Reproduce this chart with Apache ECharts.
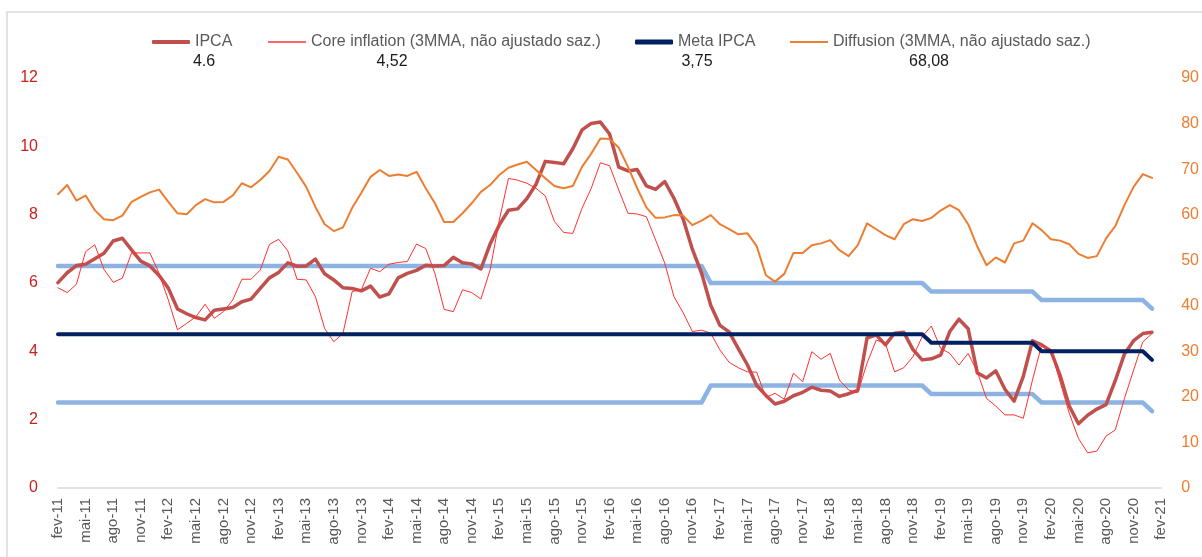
<!DOCTYPE html>
<html>
<head>
<meta charset="utf-8">
<title>IPCA x núcleos x difusão</title>
<script src="https://cdn.jsdelivr.net/npm/echarts@6/dist/echarts.min.js"></script>
<style>
  html, body { margin: 0; padding: 0; background: #fff; }
  #chart { width: 1202px; height: 557px; }
</style>
</head>
<body>
<div id="chart"></div>
<script>
// eixo x: fev-11 ... fev-21 (mensal)
const monthNames = ['jan', 'fev', 'mar', 'abr', 'mai', 'jun', 'jul', 'ago', 'set', 'out', 'nov', 'dez']
const categories = []
for (let y = 2011; y <= 2021; y++) {
    for (let m = 0; m < 12; m++) {
        if (y === 2011 && m < 1) continue
        if (y === 2021 && m > 1) break
        categories.push(monthNames[m] + '-' + String(y).slice(2))
    }
}

// IPCA 12m (fev-11 .. jan-21)
const ipca = [
    6.01, 6.30, 6.51, 6.55, 6.71, 6.87, 7.23, 7.31, 6.97, 6.64, 6.50,
    6.22, 5.85, 5.24, 5.10, 4.99, 4.92, 5.20, 5.24, 5.28, 5.45, 5.53, 5.84,
    6.15, 6.31, 6.59, 6.49, 6.50, 6.70, 6.27, 6.09, 5.86, 5.84, 5.77, 5.91,
    5.59, 5.68, 6.15, 6.28, 6.37, 6.52, 6.50, 6.51, 6.75, 6.59, 6.56, 6.41,
    7.14, 7.70, 8.13, 8.17, 8.47, 8.89, 9.56, 9.53, 9.49, 9.93, 10.48, 10.67,
    10.71, 10.36, 9.39, 9.28, 9.32, 8.84, 8.74, 8.97, 8.48, 7.87, 6.99, 6.29,
    5.35, 4.76, 4.57, 4.08, 3.60, 3.00, 2.71, 2.46, 2.54, 2.70, 2.80, 2.95,
    2.86, 2.84, 2.68, 2.76, 2.86, 4.39, 4.48, 4.19, 4.53, 4.56, 4.05, 3.75,
    3.78, 3.89, 4.58, 4.94, 4.66, 3.37, 3.22, 3.43, 2.89, 2.54, 3.27, 4.31,
    4.19, 4.01, 3.30, 2.40, 1.88, 2.13, 2.31, 2.44, 3.14, 3.92, 4.31, 4.52,
    4.56
]

// núcleos, média móvel 3m
const coreInflation = [
    5.86, 5.72, 5.96, 6.92, 7.12, 6.40, 6.02, 6.14, 6.88, 6.88, 6.88,
    6.28, 5.50, 4.63, 4.82, 5.01, 5.38, 4.97, 5.16, 5.50, 6.11, 6.11, 6.38,
    7.13, 7.28, 6.94, 6.11, 6.09, 5.60, 4.67, 4.28, 4.53, 5.75, 5.81, 6.43,
    6.33, 6.55, 6.60, 6.63, 7.14, 7.01, 6.28, 5.23, 5.16, 5.80, 5.72, 5.53,
    6.38, 7.84, 9.06, 9.01, 8.92, 8.77, 8.55, 7.80, 7.48, 7.45, 8.19, 8.77,
    9.52, 9.43, 8.72, 8.04, 8.02, 7.94, 7.26, 6.58, 5.60, 5.13, 4.58, 4.62,
    4.53, 4.04, 3.68, 3.52, 3.40, 3.39, 2.65, 2.77, 2.60, 3.36, 3.11, 3.99,
    3.77, 3.94, 3.16, 2.87, 2.79, 3.65, 4.33, 4.23, 3.40, 3.52, 3.84, 4.43,
    4.74, 4.09, 3.94, 3.60, 3.94, 3.40, 2.62, 2.40, 2.14, 2.14, 2.04, 3.16,
    4.19, 4.04, 3.11, 2.19, 1.45, 1.03, 1.08, 1.52, 1.70, 2.62, 3.45, 4.28,
    4.52
]

// meta de inflação e bandas
const metaIpca = [
    4.5, 4.5, 4.5, 4.5, 4.5, 4.5, 4.5, 4.5, 4.5, 4.5, 4.5,
    4.5, 4.5, 4.5, 4.5, 4.5, 4.5, 4.5, 4.5, 4.5, 4.5, 4.5, 4.5,
    4.5, 4.5, 4.5, 4.5, 4.5, 4.5, 4.5, 4.5, 4.5, 4.5, 4.5, 4.5,
    4.5, 4.5, 4.5, 4.5, 4.5, 4.5, 4.5, 4.5, 4.5, 4.5, 4.5, 4.5,
    4.5, 4.5, 4.5, 4.5, 4.5, 4.5, 4.5, 4.5, 4.5, 4.5, 4.5, 4.5,
    4.5, 4.5, 4.5, 4.5, 4.5, 4.5, 4.5, 4.5, 4.5, 4.5, 4.5, 4.5,
    4.5, 4.5, 4.5, 4.5, 4.5, 4.5, 4.5, 4.5, 4.5, 4.5, 4.5, 4.5,
    4.5, 4.5, 4.5, 4.5, 4.5, 4.5, 4.5, 4.5, 4.5, 4.5, 4.5, 4.5,
    4.25, 4.25, 4.25, 4.25, 4.25, 4.25, 4.25, 4.25, 4.25, 4.25, 4.25, 4.25,
    4.0, 4.0, 4.0, 4.0, 4.0, 4.0, 4.0, 4.0, 4.0, 4.0, 4.0, 4.0,
    3.75
]
const upperBand = [
    6.5, 6.5, 6.5, 6.5, 6.5, 6.5, 6.5, 6.5, 6.5, 6.5, 6.5,
    6.5, 6.5, 6.5, 6.5, 6.5, 6.5, 6.5, 6.5, 6.5, 6.5, 6.5, 6.5,
    6.5, 6.5, 6.5, 6.5, 6.5, 6.5, 6.5, 6.5, 6.5, 6.5, 6.5, 6.5,
    6.5, 6.5, 6.5, 6.5, 6.5, 6.5, 6.5, 6.5, 6.5, 6.5, 6.5, 6.5,
    6.5, 6.5, 6.5, 6.5, 6.5, 6.5, 6.5, 6.5, 6.5, 6.5, 6.5, 6.5,
    6.5, 6.5, 6.5, 6.5, 6.5, 6.5, 6.5, 6.5, 6.5, 6.5, 6.5, 6.5,
    6.0, 6.0, 6.0, 6.0, 6.0, 6.0, 6.0, 6.0, 6.0, 6.0, 6.0, 6.0,
    6.0, 6.0, 6.0, 6.0, 6.0, 6.0, 6.0, 6.0, 6.0, 6.0, 6.0, 6.0,
    5.75, 5.75, 5.75, 5.75, 5.75, 5.75, 5.75, 5.75, 5.75, 5.75, 5.75, 5.75,
    5.5, 5.5, 5.5, 5.5, 5.5, 5.5, 5.5, 5.5, 5.5, 5.5, 5.5, 5.5,
    5.25
]
const lowerBand = [
    2.5, 2.5, 2.5, 2.5, 2.5, 2.5, 2.5, 2.5, 2.5, 2.5, 2.5,
    2.5, 2.5, 2.5, 2.5, 2.5, 2.5, 2.5, 2.5, 2.5, 2.5, 2.5, 2.5,
    2.5, 2.5, 2.5, 2.5, 2.5, 2.5, 2.5, 2.5, 2.5, 2.5, 2.5, 2.5,
    2.5, 2.5, 2.5, 2.5, 2.5, 2.5, 2.5, 2.5, 2.5, 2.5, 2.5, 2.5,
    2.5, 2.5, 2.5, 2.5, 2.5, 2.5, 2.5, 2.5, 2.5, 2.5, 2.5, 2.5,
    2.5, 2.5, 2.5, 2.5, 2.5, 2.5, 2.5, 2.5, 2.5, 2.5, 2.5, 2.5,
    3.0, 3.0, 3.0, 3.0, 3.0, 3.0, 3.0, 3.0, 3.0, 3.0, 3.0, 3.0,
    3.0, 3.0, 3.0, 3.0, 3.0, 3.0, 3.0, 3.0, 3.0, 3.0, 3.0, 3.0,
    2.75, 2.75, 2.75, 2.75, 2.75, 2.75, 2.75, 2.75, 2.75, 2.75, 2.75, 2.75,
    2.5, 2.5, 2.5, 2.5, 2.5, 2.5, 2.5, 2.5, 2.5, 2.5, 2.5, 2.5,
    2.25
]

// difusão (eixo da direita)
const diffusion = [
    64.5, 66.5, 63.1, 64.2, 61.0, 59.0, 58.8, 59.8, 62.8, 63.9, 64.9,
    65.5, 62.8, 60.3, 60.1, 62.1, 63.4, 62.7, 62.8, 64.2, 66.9, 66.0, 67.6,
    69.6, 72.7, 72.1, 69.2, 66.1, 61.7, 57.9, 56.4, 57.2, 61.5, 64.8, 68.3,
    69.8, 68.5, 68.8, 68.5, 69.4, 65.8, 62.5, 58.4, 58.4, 60.3, 62.5, 65.0,
    66.5, 68.7, 70.3, 71.0, 71.6, 69.8, 68.0, 66.3, 65.8, 66.3, 70.5, 73.4,
    76.7, 76.6, 74.7, 70.5, 65.8, 61.6, 59.3, 59.4, 59.9, 59.8, 57.7, 58.7,
    59.9, 57.9, 56.8, 55.7, 55.9, 53.1, 46.7, 45.3, 47.0, 51.6, 51.6, 53.3,
    53.7, 54.4, 52.2, 50.9, 53.3, 58.1, 56.8, 55.5, 54.6, 57.9, 59.0, 58.6,
    59.3, 60.9, 62.1, 61.0, 57.9, 53.0, 48.9, 50.6, 49.5, 53.7, 54.3, 58.1,
    56.6, 54.6, 54.3, 53.5, 51.4, 50.5, 50.9, 54.8, 57.5, 62.1, 66.1, 68.9,
    68.08
]

// último valor de cada série, mostrado embaixo da legenda
const lastValues = ['4.6', '4,52', '3,75', '68,08']

const FONT = 'Liberation Sans'

let chart = echarts.getInstanceByDom(document.getElementById('chart'))
if (!chart) chart = echarts.init(document.getElementById('chart'))

// uma legenda por série, pra posicionar igual ao excel
// (icone = traço com a espessura da linha)
function legendItem(name, left, thick) {
    return {
        data: [name],
        left: left,
        top: 29,
        icon: 'roundRect',
        itemWidth: 38,
        itemHeight: thick,
        itemGap: 4,
        textStyle: { color: '#595959', fontSize: 16, fontFamily: FONT }
    }
}

function valueText(txt, x) {
    return {
        type: 'text',
        x: x,
        y: 62,
        style: {
            text: txt,
            fill: '#1a1a1a',
            fontSize: 16,
            fontFamily: FONT,
            align: 'center',
            verticalAlign: 'middle'
        }
    }
}

function lineSeries(name, data, color, width, yAxisIndex, z) {
    return {
        name: name,
        type: 'line',
        yAxisIndex: yAxisIndex,
        data: data,
        symbol: 'none',
        z: z,
        lineStyle: { color: color, width: width, cap: 'round', join: 'round' },
        itemStyle: { color: color }
    }
}

const option = {
    animation: false,
    backgroundColor: '#fff',
    tooltip: { trigger: 'axis' },
    legend: [
        legendItem('IPCA', 147, 4),
        legendItem('Core inflation (3MMA, não ajustado saz.)', 263, 1.5),
        legendItem('Meta IPCA', 630, 5),
        legendItem('Diffusion (3MMA, não ajustado saz.)', 785, 2)
    ],
    grid: {
        left: 58,
        right: 35,
        top: 78,
        bottom: 69
    },
    xAxis: {
        type: 'category',
        boundaryGap: false,
        data: categories,
        axisLine: { lineStyle: { color: '#d9d9d9', width: 1.5 } },
        axisTick: { show: false },
        axisLabel: {
            interval: 2,
            rotate: 90,
            margin: 10,
            color: '#595959',
            fontSize: 15,
            fontFamily: FONT
        },
        splitLine: { show: false }
    },
    yAxis: [
        {
            type: 'value',
            min: 0,
            max: 12,
            interval: 2,
            axisLine: { show: false },
            axisTick: { show: false },
            splitLine: { show: false },
            axisLabel: { color: '#c9211e', fontSize: 16, fontFamily: FONT, margin: 20 }
        },
        {
            type: 'value',
            min: 0,
            max: 90,
            interval: 10,
            axisLine: { show: false },
            axisTick: { show: false },
            splitLine: { show: false },
            axisLabel: { color: '#ed7d31', fontSize: 16, fontFamily: FONT, margin: 20 }
        }
    ],
    series: [
        lineSeries('Banda superior', upperBand, '#8db3e2', 4.5, 0, 1),
        lineSeries('Banda inferior', lowerBand, '#8db3e2', 4.5, 0, 1),
        lineSeries('IPCA', ipca, '#c0504d', 3.5, 0, 3),
        lineSeries('Core inflation (3MMA, não ajustado saz.)', coreInflation, '#ff3030', 1, 0, 4),
        lineSeries('Meta IPCA', metaIpca, '#002060', 4, 0, 5),
        lineSeries('Diffusion (3MMA, não ajustado saz.)', diffusion, '#ed7d31', 2, 1, 6)
    ],
    graphic: [
        // moldura do gráfico (estilo excel)
        {
            type: 'rect',
            silent: true,
            shape: { x: 7, y: 12, width: 1300, height: 700 },
            style: { fill: 'none', stroke: '#d9d9d9', lineWidth: 1.5 }
        },
        valueText(lastValues[0], 204),
        valueText(lastValues[1], 392),
        valueText(lastValues[2], 697),
        valueText(lastValues[3], 929)
    ]
}

chart.clear()
option && chart.setOption(option)

window.addEventListener('resize', function () {
    chart.resize()
})
</script>
</body>
</html>
